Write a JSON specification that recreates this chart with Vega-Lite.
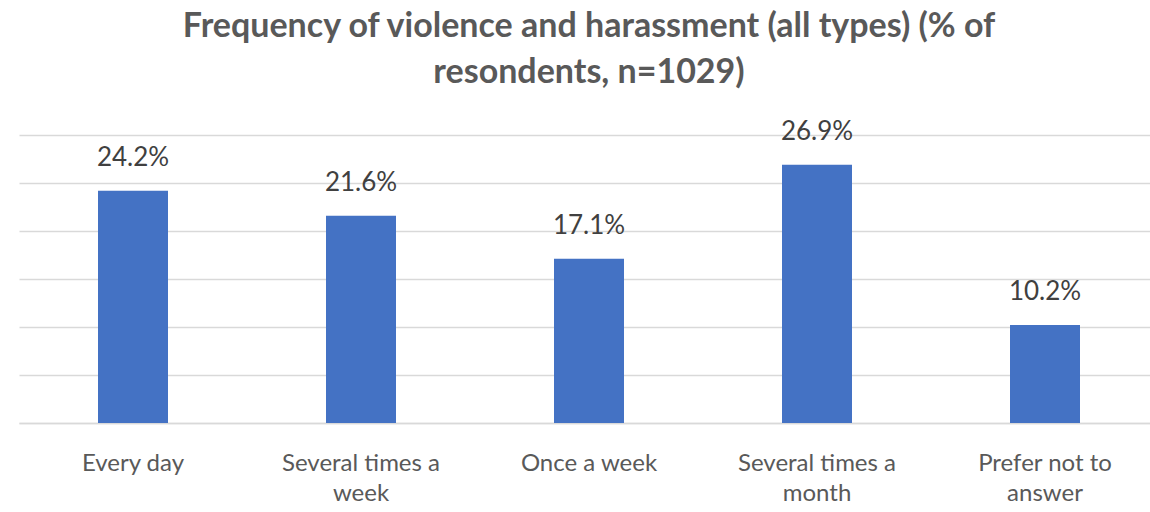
{
  "$schema": "https://vega.github.io/schema/vega-lite/v6.json",
  "autosize": "none",
  "width": 1140,
  "height": 288,
  "padding": {"left": 19, "top": 135, "right": 0, "bottom": 89},
  "background": "white",
  "title": {
    "text": ["Frequency of violence and harassment (all types) (% of", "resondents, n=1029)"],
    "font": "Lato",
    "fontSize": 34,
    "fontWeight": "bold",
    "color": "#595959",
    "anchor": "middle",
    "lineHeight": 46,
    "offset": 29
  },
  "data": {
    "values": [
      {"category": "Every day", "share": 0.242},
      {"category": "Several times a week", "share": 0.216},
      {"category": "Once a week", "share": 0.171},
      {"category": "Several times a month", "share": 0.269},
      {"category": "Prefer not to answer", "share": 0.102}
    ]
  },
  "encoding": {
    "x": {
      "field": "category",
      "type": "nominal",
      "sort": null,
      "scale": {"paddingInner": 0.693, "paddingOuter": 0.3465},
      "axis": {
        "title": null,
        "labelAngle": 0,
        "labelFont": "Lato",
        "labelFontSize": 24,
        "labelColor": "#595959",
        "labelPadding": 28,
        "labelLineHeight": 30,
        "labelBaseline": "top",
        "ticks": false,
        "domainColor": "#d9d9d9",
        "domainWidth": 1.5,
        "labelExpr": "datum.value == 'Several times a week' ? ['Several times a', 'week'] : datum.value == 'Several times a month' ? ['Several times a', 'month'] : datum.value == 'Prefer not to answer' ? ['Prefer not to', 'answer'] : datum.value"
      }
    },
    "y": {
      "field": "share",
      "type": "quantitative",
      "scale": {"domain": [0, 0.3], "nice": false},
      "axis": {
        "title": null,
        "labels": false,
        "ticks": false,
        "domain": false,
        "values": [0, 0.05, 0.1, 0.15, 0.2, 0.25, 0.3],
        "gridColor": "#d9d9d9",
        "gridWidth": 1.5
      }
    }
  },
  "layer": [
    {"mark": {"type": "bar", "color": "#4472c4"}},
    {
      "mark": {
        "type": "text",
        "baseline": "alphabetic",
        "dy": -25,
        "font": "Lato",
        "fontSize": 26,
        "color": "#404040"
      },
      "encoding": {
        "text": {"field": "share", "type": "quantitative", "format": ".1%"}
      }
    }
  ],
  "config": {"view": {"stroke": null}}
}
